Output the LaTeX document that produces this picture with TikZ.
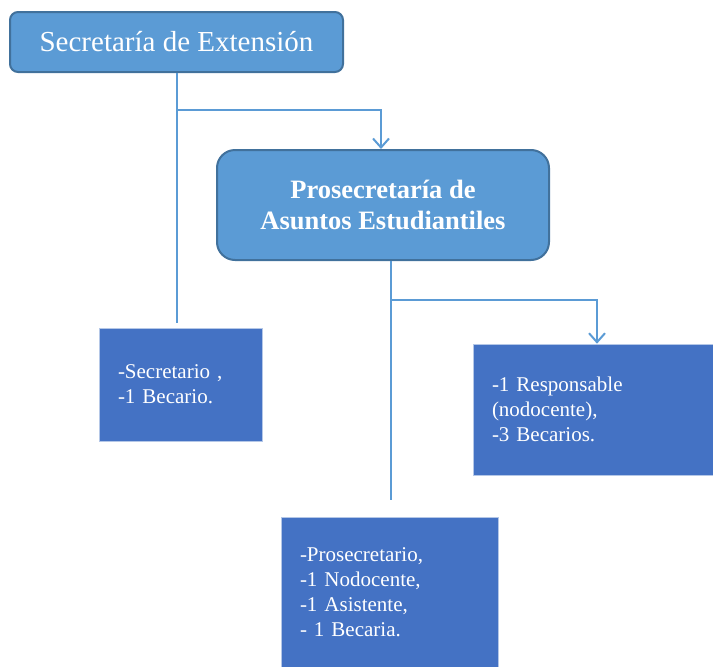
\documentclass[tikz,border=0pt]{standalone}
\usepackage{fontspec}
\setmainfont{Liberation Serif}
\usetikzlibrary{arrows.meta}

\definecolor{lightblue}{HTML}{5B9BD5}
\definecolor{darkblue}{HTML}{41719C}
\definecolor{staffblue}{HTML}{4472C4}

\tikzset{
  unitbox/.style={draw=darkblue, line width=2, fill=lightblue, text=white},
  staffbox/.style={draw=staffblue!40!white, line width=0.6, fill=staffblue, text=white,
    align=left, inner xsep=19, font=\fontsize{21}{25}\selectfont},
  link/.style={draw=lightblue, line width=2},
}

\begin{document}
\begin{tikzpicture}[x=1pt,y=-1pt]
      \useasboundingbox (0,0) rectangle (713,667);
      % units
      \node[unitbox, rounded corners=8, minimum width=333, minimum height=60,
        font=\fontsize{29}{34}\selectfont] (sec) at (176.5,42) {Secretaría de Extensión};
      \node[unitbox, rounded corners=18, minimum width=332, minimum height=110,
        align=center, font=\bfseries\fontsize{26.5}{31}\selectfont] (prosec) at (383,205)
        {Prosecretaría de\\Asuntos Estudiantiles};
      % staff
      \node[staffbox, minimum width=163, minimum height=113, text width=125] (secr) at (180.5,384.5)
        {-Secretario ,\\-1 Becario.};
      \node[staffbox, minimum width=240, minimum height=131, text width=202] (resp) at (593,409.5)
        {-1 Responsable\\(nodocente),\\-3 Becarios.};
      \node[staffbox, minimum width=217, minimum height=150, text width=179] (pros) at (389.5,592)
        {-Prosecretario,\\-1 Nodocente,\\-1 Asistente,\\- 1 Becaria.};
      \coordinate (j1) at (176.5,110);
      \coordinate (j2) at (391,300);
      \begin{scope}[link]
        \draw[-{Straight Barb[length=9,width=16]}] (sec.south) -- (j1) -| ([xshift=-2]prosec.north);
        \draw (j1) -- ([yshift=5]j1 |- secr.north);
        \draw[-{Straight Barb[length=9,width=16]}] ([xshift=8]prosec.south) -- (j2) -| ([xshift=4]resp.north);
        \draw (j2) -- ([yshift=17]j2 |- pros.north);
      \end{scope}
\end{tikzpicture}
\end{document}
